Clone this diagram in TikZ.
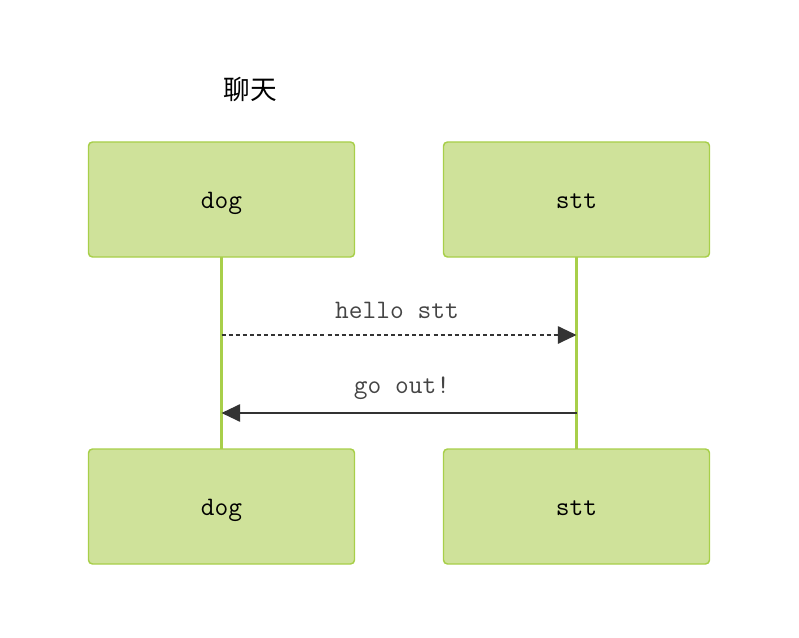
\documentclass[tikz,border=0pt]{standalone}
\usepackage{fontspec}
\newfontfamily\cjk{Noto Sans CJK SC}
\usetikzlibrary{arrows.meta}
\definecolor{boxfill}{HTML}{CFE29A}
\definecolor{boxline}{HTML}{A8CF4A}
\definecolor{msgline}{HTML}{333333}
\definecolor{msgtext}{HTML}{444444}
\tikzset{
  actor/.style={draw=boxline, fill=boxfill, line width=1.1pt, rounded corners=3pt,
    minimum width=199.5pt, minimum height=86.25pt, inner sep=0pt,
    text height=14pt, text depth=0pt,
    font=\ttfamily\fontsize{20}{24}\selectfont},
  lifeline/.style={draw=boxline, line width=2.2pt},
  msg/.style={draw=msgline, line width=1.5pt, -{Triangle[length=14pt,width=13pt]}},
  msglabel/.style={text=msgtext, font=\ttfamily\fontsize{20}{24}\selectfont}
}
\begin{document}
\begin{tikzpicture}[x=0.75pt, y=-0.75pt]
    \useasboundingbox (0,0) rectangle (799,638);

    \node[font=\cjk\fontsize{20}{24}\selectfont] (title) at (250,89) {聊天};

    % lifelines first, boxes over them
    \coordinate (dogtopc) at (221.5,199.5);
    \coordinate (sttopc) at (576.5,199.5);
    \draw[lifeline] (221.5,257) coordinate (dogl1) -- (221.5,449) coordinate (dogl2);
    \draw[lifeline] (576.5,257) coordinate (sttl1) -- (576.5,449) coordinate (sttl2);

    \node[actor] (dogtop) at (dogtopc) {dog};
    \node[actor] (stttop) at (sttopc) {stt};
    \node[actor] (dogbot) at (221.5,506.5) {dog};
    \node[actor] (sttbot) at (576.5,506.5) {stt};

    % messages
    \coordinate (m1a) at (221.5,335);
    \coordinate (m1b) at (576.5,335);
    \coordinate (m2a) at (576.5,413);
    \coordinate (m2b) at (221.5,413);

    \draw[msg, dash pattern=on 3pt off 2.3pt] (m1a) -- (m1b);
    \node[msglabel] (hello) at (397,310) {hello stt};

    \draw[msg] (m2a) -- (m2b);
    \node[msglabel] (goout) at (402,388) {go out!};
\end{tikzpicture}
\end{document}
